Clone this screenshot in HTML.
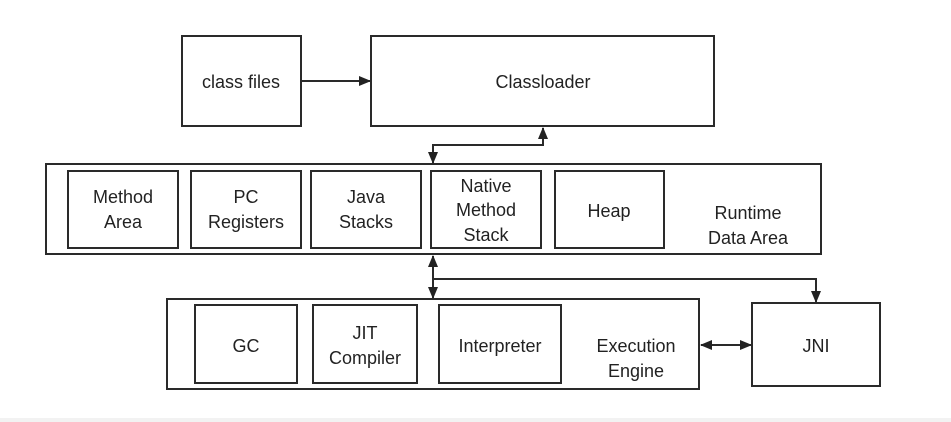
<!DOCTYPE html>
<html><head><meta charset="utf-8"><style>
html,body{margin:0;padding:0;background:#fff;}
svg{display:block;}
text{font-family:"Liberation Sans",sans-serif;font-size:18px;fill:#222;text-anchor:middle;}
</style></head><body>
<svg width="951" height="422" viewBox="0 0 951 422">
<defs>
<marker id="a" markerWidth="10" markerHeight="12" refX="11" refY="6" orient="auto" markerUnits="userSpaceOnUse"><path d="M0,1 L12,6 L0,11 z" fill="#222"/></marker>
<marker id="s" markerWidth="12" markerHeight="12" refX="1" refY="6" orient="auto" markerUnits="userSpaceOnUse"><path d="M12,1 L0,6 L12,11 z" fill="#222"/></marker>
</defs>
<rect x="0" y="418" width="951" height="4" fill="#f2f2f2"/>
<g fill="none" stroke="#2a2a2a" stroke-width="2">
<rect x="182" y="36" width="119" height="90"/>
<rect x="371" y="36" width="343" height="90"/>
<rect x="46" y="164" width="775" height="90"/>
<rect x="68" y="171" width="110" height="77"/>
<rect x="191" y="171" width="110" height="77"/>
<rect x="311" y="171" width="110" height="77"/>
<rect x="431" y="171" width="110" height="77"/>
<rect x="555" y="171" width="109" height="77"/>
<rect x="167" y="299" width="532" height="90"/>
<rect x="195" y="305" width="102" height="78"/>
<rect x="313" y="305" width="104" height="78"/>
<rect x="439" y="305" width="122" height="78"/>
<rect x="752" y="303" width="128" height="83"/>
</g>
<g fill="none" stroke="#2a2a2a" stroke-width="2">
<line x1="301" y1="81" x2="370" y2="81" marker-end="url(#a)"/>
<polyline points="543,128 543,145 433,145 433,163" marker-start="url(#s)" marker-end="url(#a)"/>
<line x1="433" y1="256" x2="433" y2="298" marker-start="url(#s)" marker-end="url(#a)"/>
<polyline points="433,279 816,279 816,302" marker-end="url(#a)"/>
<line x1="701" y1="345" x2="751" y2="345" marker-start="url(#s)" marker-end="url(#a)"/>
</g>
<text x="241" y="88">class files</text>
<text x="543" y="88">Classloader</text>
<text x="123" y="203">Method</text><text x="123" y="228">Area</text>
<text x="246" y="203">PC</text><text x="246" y="228">Registers</text>
<text x="366" y="203">Java</text><text x="366" y="228">Stacks</text>
<text x="486" y="192">Native</text><text x="486" y="216">Method</text><text x="486" y="241">Stack</text>
<text x="609" y="217">Heap</text>
<text x="748" y="219">Runtime</text><text x="748" y="244">Data Area</text>
<text x="246" y="352">GC</text>
<text x="365" y="339">JIT</text><text x="365" y="364">Compiler</text>
<text x="500" y="352">Interpreter</text>
<text x="636" y="352">Execution</text><text x="636" y="377">Engine</text>
<text x="816" y="352">JNI</text>
</svg>
</body></html>
